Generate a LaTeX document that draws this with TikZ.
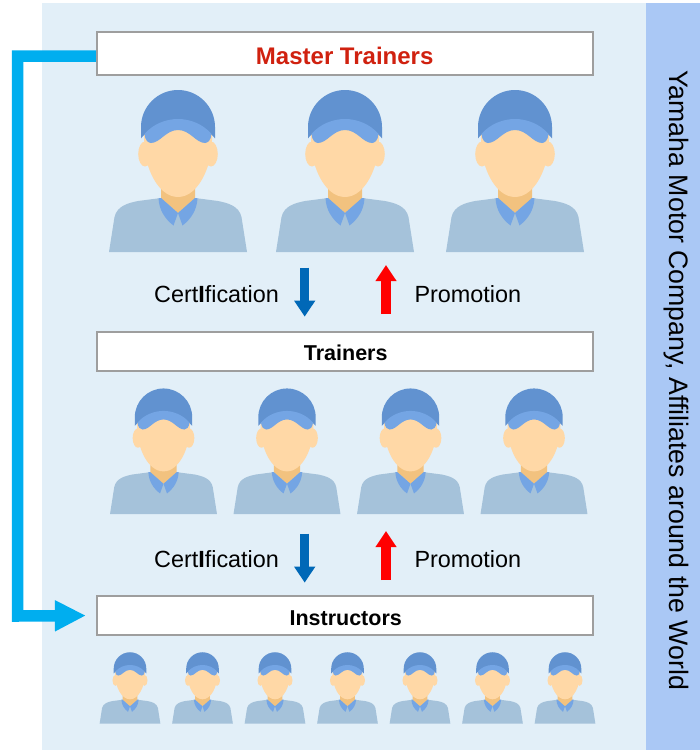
\documentclass[tikz,border=0pt]{standalone}
\usepackage{fontspec}
\setmainfont{Liberation Sans}
\usetikzlibrary{arrows.meta}
\definecolor{panelblue}{HTML}{E2EFF8}
\definecolor{bandblue}{HTML}{AAC8F5}
\definecolor{capblue}{HTML}{6192D0}
\definecolor{visorblue}{HTML}{74A5E4}
\definecolor{shirtblue}{HTML}{A5C2DA}
\definecolor{skin}{HTML}{FFD8A6}
\definecolor{neckskin}{HTML}{F2C27F}
\definecolor{masterred}{HTML}{D0210F}
\definecolor{flowcyan}{HTML}{00AEEF}
\definecolor{certblue}{HTML}{0068B7}
\tikzset{
  levelbox/.style={draw=black!38,line width=1.6pt,fill=white,minimum width=496pt,minimum height=39.5pt,inner sep=0pt,text depth=0pt},
  steplabel/.style={font=\fontsize{23.4}{26}\selectfont},
  certarrow/.style={draw=certblue,line width=9.5pt,-{Triangle[length=16pt,width=20pt]}},
  promoarrow/.style={draw=red,line width=9.5pt,-{Triangle[length=16pt,width=20pt]}},
  worker/.pic={
    \fill[shirtblue] (-69,0) -- (-63.5,-35) .. controls (-61,-46) and (-50,-49) .. (-40,-51) -- (-17,-54) -- (17,-54) -- (40,-51) .. controls (50,-49) and (61,-46) .. (63.5,-35) -- (69,0) -- cycle;
    \fill[neckskin] (-17,-68) -- (-17,-54) -- (0,-39) -- (17,-54) -- (17,-68) -- cycle;
    \fill[visorblue] (-19.5,-54) -- (-17,-54) -- (0,-39) -- (-4.5,-26.5) .. controls (-13,-33) and (-19,-42) .. cycle;
    \fill[visorblue] (19.5,-54) -- (17,-54) -- (0,-39) -- (4.5,-26.5) .. controls (13,-33) and (19,-42) .. cycle;
    \fill[skin] (-33,-98) ellipse (6.8 and 12.5);
    \fill[skin] (33,-98) ellipse (6.8 and 12.5);
    \fill[skin] (-34,-112) .. controls (-34,-85) and (-20,-55) .. (0,-55) .. controls (20,-55) and (34,-85) .. (34,-112) -- (34,-125) -- (-34,-125) -- cycle;
    \fill[capblue] (-37,-113.7) -- (-37,-125) .. controls (-37,-145.4) and (-20.4,-162) .. (0,-162) .. controls (20.4,-162) and (37,-145.4) .. (37,-125) -- (37,-113.7) -- (33,-118) -- (0,-128) -- (-33,-118) -- cycle;
    \fill[visorblue] (-33.5,-118) .. controls (-25,-128) and (-12,-133) .. (0,-133) .. controls (12,-133) and (25,-128) .. (33.5,-118) .. controls (33,-112) and (30,-109) .. (27,-109) .. controls (18,-109) and (12,-122) .. (0,-122) .. controls (-12,-122) and (-18,-109) .. (-27,-109) .. controls (-30,-109) and (-33,-112) .. cycle;
  },
}
\begin{document}
\begin{tikzpicture}[x=1pt,y=-1pt]
\useasboundingbox (0,0) rectangle (700,750);
\fill[panelblue] (42,3) rectangle (646,750);
\fill[bandblue] (646,3) rectangle (700,750);
\node[levelbox,minimum height=43.5pt,text height=21pt,font=\fontsize{24}{26}\selectfont\bfseries,text=masterred] (master) at (344.7,53.5) {Master Trainers};
\node[levelbox,text height=17pt,font=\fontsize{21.5}{24}\selectfont\bfseries] (trainers) at (344.7,351.5) {\hspace{2pt}Trainers};
\node[levelbox,text height=19pt,font=\fontsize{21.5}{24}\selectfont\bfseries] (instructors) at (344.7,615.5) {\hspace{2pt}Instructors};
\node[rotate=-90,font=\fontsize{26.7}{30}\selectfont] (company) at (676,380) {Yamaha Motor Company, Affiliates around the World};
\draw[flowcyan,line width=11.5pt,-{Triangle[length=31pt,width=29pt]},shorten >=10pt] ([yshift=-2.5pt]master.west) -| (17.5,616) -- (instructors.west);
\foreach \x in {178,345,515} {
\pic at (\x,252) {worker};
}
\foreach \x in {163.5,287,410.5,534} {
\pic[scale=0.775] at (\x,514) {worker};
}
\foreach \x in {130,202.5,275,347.5,420,492.5,565} {
\pic[scale=0.44] at (\x,723.5) {worker};
}
\foreach \n/\y in {a/294,b/559} {
\node[steplabel,anchor=east] (cert\n) at (282.5,\y) {Cert{\bfseries I}fication};
\node[steplabel,anchor=west] (promo\n) at (411,\y) {Promotion};
}
\coordinate (certtopa) at (304.7,267.7);
\coordinate (certenda) at (304.7,316.7);
\coordinate (promotopa) at (386,265);
\coordinate (promoenda) at (386,314);
\coordinate (certtopb) at (304.7,533.7);
\coordinate (certendb) at (304.7,582.7);
\coordinate (promotopb) at (386,531);
\coordinate (promoendb) at (386,580);
\foreach \n in {a,b} {
\draw[certarrow] (certtop\n) -- (certend\n);
\draw[promoarrow] (promoend\n) -- (promotop\n);
}
\end{tikzpicture}
\end{document}
